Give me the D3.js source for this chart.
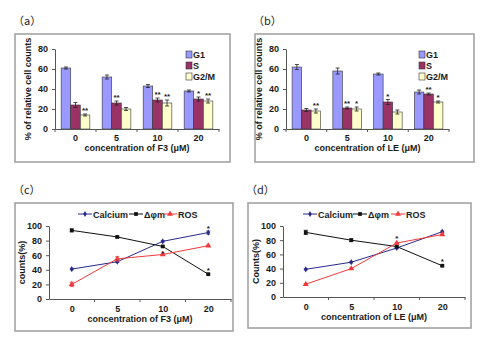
<!DOCTYPE html>
<html>
<head>
<meta charset="utf-8">
<script src="https://cdn.jsdelivr.net/npm/d3@7"></script>
<style>
  body { margin: 0; background: #fff; }
  text { font-family: "Liberation Sans", Arial, sans-serif; font-weight: bold; fill: #1a1a1a; }
</style>
</head>
<body>
<div id="chart"></div>
<script>
// categories
const concentrations = ["0", "5", "10", "20"];
const phases = ["G1", "S", "G2/M"];
const probes = ["Calcium", "Δφm", "ROS"];

// cell cycle, F3 (%)
const f3G1 = [61, 52, 43, 38];
const f3S = [24, 26, 29, 30];
const f3G2M = [14, 20, 26, 28];
const f3G1Err = [1, 2, 1.5, 1];
const f3SErr = [2.5, 2, 2, 2];
const f3G2MErr = [1, 1.5, 3, 2];
const f3BarStars = [["0", "G2/M", "**"], ["5", "S", "**"], ["10", "S", "**"], ["10", "G2/M", "**"], ["20", "S", "*"], ["20", "G2/M", "**"]];

// cell cycle, LE (%)
const leG1 = [62, 58, 55, 37];
const leS = [19, 21, 27, 35];
const leG2M = [18, 20, 17, 27];
const leG1Err = [2.5, 3, 1, 2];
const leSErr = [1.5, 1, 2.5, 1];
const leG2MErr = [2, 2, 2, 1];
const leBarStars = [["0", "G2/M", "**"], ["5", "S", "**"], ["5", "G2/M", "*"], ["10", "S", "*"], ["20", "S", "**"], ["20", "G2/M", "*"]];

// counts, F3 (%)
const f3Calcium = [41, 51, 79, 91];
const f3Dpsi = [94, 85, 72, 34];
const f3Ros = [20, 55, 61, 73];
const f3CalciumErr = [1, 1, 1, 2];
const f3DpsiErr = [2, 1, 1, 1];
const f3RosErr = [3, 3, 1, 1];
const f3LineStars = [["10", 66], ["20", 100], ["20", 42]];

// counts, LE (%)
const leCalcium = [39, 49, 69, 92];
const leDpsi = [91, 80, 71, 44];
const leRos = [18, 40, 76, 88];
const leCalciumErr = [1, 1, 1, 1];
const leDpsiErr = [3, 2, 1, 1];
const leRosErr = [1, 1, 1, 1];
const leLineStars = [["10", 86], ["20", 53]];

const barTicks = [0, 20, 40, 60, 80];
const lineTicks = [0, 20, 40, 60, 80, 100];

const phaseColor = { "G1": "#9999ff", "S": "#993366", "G2/M": "#ffffcc" };
const probeColor = { "Calcium": "#28288a", "Δφm": "#111", "ROS": "#f03a3a" };
const probeSymbol = { "Calcium": d3.symbolDiamond, "Δφm": d3.symbolSquare, "ROS": d3.symbolTriangle };
const probeSize = { "Calcium": 11, "Δφm": 14, "ROS": 15 };

const svg = d3.select("#chart").append("svg")
  .attr("width", 482).attr("height", 339);

function frame(f, label) {
  svg.append("rect")
    .attr("x", f.x).attr("y", f.y).attr("width", f.w).attr("height", f.h)
    .attr("fill", "none").attr("stroke", "#a3a3a3").attr("stroke-width", 1.6);
  svg.append("text")
    .attr("x", f.x - 2).attr("y", f.y - 9)
    .style("font-family", "'Noto Sans CJK SC', sans-serif")
    .style("font-weight", "normal")
    .attr("font-size", 11)
    .text("（" + label + "）");
}

function yAxis(g, y, ticks, left) {
  const ax = g.append("g")
    .attr("transform", `translate(${left},0)`)
    .call(d3.axisLeft(y).tickValues(ticks).tickSize(3).tickSizeOuter(0).tickPadding(4));
  ax.selectAll("text").attr("font-size", 9).style("font-family", "'Liberation Sans', Arial").style("font-weight", "bold");
  ax.selectAll("path,line").attr("stroke", "#555");
}

function xAxis(g, x, bottom, boundaries, labelPad) {
  const ax = g.append("g")
    .attr("transform", `translate(0,${bottom})`)
    .call(d3.axisBottom(x).tickSize(0).tickSizeOuter(0).tickPadding(labelPad));
  ax.selectAll("text").attr("font-size", 9).style("font-family", "'Liberation Sans', Arial").style("font-weight", "bold");
  ax.select(".domain").attr("stroke", "#555");
  g.selectAll(null).data(boundaries).join("line")
    .attr("x1", (d) => d).attr("x2", (d) => d)
    .attr("y1", bottom).attr("y2", bottom + 3)
    .attr("stroke", "#555");
}

function titles(g, cx, xTitleY, yTitleX, cy, xTitle, yTitle) {
  g.append("text")
    .attr("x", cx).attr("y", xTitleY)
    .attr("text-anchor", "middle").attr("font-size", 9)
    .text(xTitle);
  g.append("text")
    .attr("transform", `translate(${yTitleX},${cy}) rotate(-90)`)
    .attr("text-anchor", "middle").attr("font-size", 9)
    .text(yTitle);
}

function errorBar(g, cx, yTop, yBot, hw, color) {
  g.append("path")
    .attr("d", `M${cx},${yTop}V${yBot}M${cx - hw},${yTop}H${cx + hw}M${cx - hw},${yBot}H${cx + hw}`)
    .attr("stroke", color).attr("stroke-width", 0.8).attr("fill", "none");
}

function drawBars(opt) {
  frame(opt.frame, opt.label);
  const g = svg.append("g");
  const x = d3.scaleBand().domain(concentrations)
    .range([opt.left, opt.right]).paddingInner(0.3).paddingOuter(0.15);
  const xs = d3.scaleBand().domain(phases).range([0, x.bandwidth()]);
  const y = d3.scaleLinear().domain([0, 80]).range([opt.bottom, opt.top]);

  const rows = [];
  phases.forEach((p) => {
    concentrations.forEach((c, i) => {
      rows.push({ c, p, v: opt.means[p][i], e: opt.errs[p][i] });
    });
  });

  g.selectAll("rect.bar").data(rows).join("rect")
    .attr("class", "bar")
    .attr("x", (d) => x(d.c) + xs(d.p))
    .attr("y", (d) => y(d.v))
    .attr("width", xs.bandwidth())
    .attr("height", (d) => y(0) - y(d.v))
    .attr("fill", (d) => phaseColor[d.p])
    .attr("stroke", "#333").attr("stroke-width", 0.6);

  rows.forEach((d) => {
    const cx = x(d.c) + xs(d.p) + xs.bandwidth() / 2;
    errorBar(g, cx, y(d.v + d.e), y(d.v - d.e), 2, "#222");
  });

  opt.stars.forEach(([c, p, s]) => {
    const i = concentrations.indexOf(c);
    g.append("text")
      .attr("x", x(c) + xs(p) + xs.bandwidth() / 2)
      .attr("y", y(opt.means[p][i] + opt.errs[p][i]) - 1)
      .attr("text-anchor", "middle").attr("font-size", 8)
      .text(s);
  });

  const boundaries = concentrations.map((c) => x(c) - x.step() * 0.15).concat([opt.right]);
  xAxis(g, x, opt.bottom, boundaries, 6);
  yAxis(g, y, barTicks, opt.left);
  titles(g, (opt.left + opt.right) / 2, opt.bottom + 22, opt.left - 24, (opt.top + opt.bottom) / 2,
    opt.xTitle, "% of relative cell counts");

  const leg = g.append("g").attr("transform", `translate(${opt.legend[0]},${opt.legend[1]})`);
  phases.forEach((p, i) => {
    leg.append("rect")
      .attr("x", 0).attr("y", i * 11 - 3).attr("width", 6).attr("height", 7)
      .attr("fill", phaseColor[p]).attr("stroke", "#333").attr("stroke-width", 0.6);
    leg.append("text")
      .attr("x", 7).attr("y", i * 11 + 4).attr("font-size", 9)
      .text(p);
  });
}

function drawLines(opt) {
  frame(opt.frame, opt.label);
  const g = svg.append("g");
  const x = d3.scalePoint().domain(concentrations).range([opt.left, opt.right]).padding(0.5);
  const y = d3.scaleLinear().domain([0, 100]).range([opt.bottom, opt.top]);
  const line = d3.line().x((d) => x(d.c)).y((d) => y(d.v));

  probes.forEach((p) => {
    const pts = concentrations.map((c, i) => ({ c, v: opt.means[p][i], e: opt.errs[p][i] }));
    g.append("path").datum(pts)
      .attr("d", line).attr("fill", "none")
      .attr("stroke", probeColor[p]).attr("stroke-width", 1);
    pts.forEach((d) => {
      errorBar(g, x(d.c), y(d.v + d.e), y(d.v - d.e), 2, probeColor[p]);
    });
    g.selectAll(null).data(pts).join("path")
      .attr("transform", (d) => `translate(${x(d.c)},${y(d.v)})`)
      .attr("d", d3.symbol(probeSymbol[p], probeSize[p]))
      .attr("fill", probeColor[p]);
  });

  opt.stars.forEach(([c, v]) => {
    g.append("text")
      .attr("x", x(c)).attr("y", y(v) + 5)
      .attr("text-anchor", "middle").attr("font-size", 8)
      .text("*");
  });

  const step = x.step();
  const boundaries = concentrations.map((c) => x(c) - step / 2).slice(1).concat([opt.right]);
  xAxis(g, x, opt.bottom, boundaries, 7);
  yAxis(g, y, lineTicks, opt.left);
  titles(g, (opt.left + opt.right) / 2, opt.bottom + 23, opt.left - 24, (opt.top + opt.bottom) / 2,
    opt.xTitle, opt.yTitle);

  const leg = g.append("g").attr("transform", `translate(0,${opt.legendY})`);
  probes.forEach((p, i) => {
    const lx = opt.legendX[i];
    leg.append("line").attr("x1", lx).attr("x2", lx + 14).attr("y1", 0).attr("y2", 0)
      .attr("stroke", probeColor[p]).attr("stroke-width", 1);
    leg.append("path").attr("transform", `translate(${lx + 7},0)`)
      .attr("d", d3.symbol(probeSymbol[p], probeSize[p])).attr("fill", probeColor[p]);
    leg.append("text").attr("x", lx + 15).attr("y", 3.5).attr("font-size", 9).text(p);
  });
}

drawBars({
  frame: { x: 15, y: 34, w: 215, h: 128 }, label: "a",
  left: 55, right: 219, top: 49, bottom: 129,
  means: { "G1": f3G1, "S": f3S, "G2/M": f3G2M },
  errs: { "G1": f3G1Err, "S": f3SErr, "G2/M": f3G2MErr },
  stars: f3BarStars, legend: [186, 54],
  xTitle: "concentration of F3 (μM)"
});

drawBars({
  frame: { x: 255, y: 34, w: 219, h: 128 }, label: "b",
  left: 286, right: 449, top: 49, bottom: 129,
  means: { "G1": leG1, "S": leS, "G2/M": leG2M },
  errs: { "G1": leG1Err, "S": leSErr, "G2/M": leG2MErr },
  stars: leBarStars, legend: [419, 54],
  xTitle: "concentration of LE (μM)"
});

drawLines({
  frame: { x: 15, y: 203, w: 218, h: 128 }, label: "c",
  left: 49, right: 231, top: 226, bottom: 299,
  means: { "Calcium": f3Calcium, "Δφm": f3Dpsi, "ROS": f3Ros },
  errs: { "Calcium": f3CalciumErr, "Δφm": f3DpsiErr, "ROS": f3RosErr },
  stars: f3LineStars, legendX: [78, 129, 163], legendY: 214,
  xTitle: "concentration of F3 (μM)", yTitle: "counts(%)"
});

drawLines({
  frame: { x: 248, y: 203, w: 223, h: 125 }, label: "d",
  left: 283, right: 465, top: 226, bottom: 297,
  means: { "Calcium": leCalcium, "Δφm": leDpsi, "ROS": leRos },
  errs: { "Calcium": leCalciumErr, "Δφm": leDpsiErr, "ROS": leRosErr },
  stars: leLineStars, legendX: [303, 353, 391], legendY: 214,
  xTitle: "concentration of LE (μM)", yTitle: "Counts(%)"
});
</script>
</body>
</html>
